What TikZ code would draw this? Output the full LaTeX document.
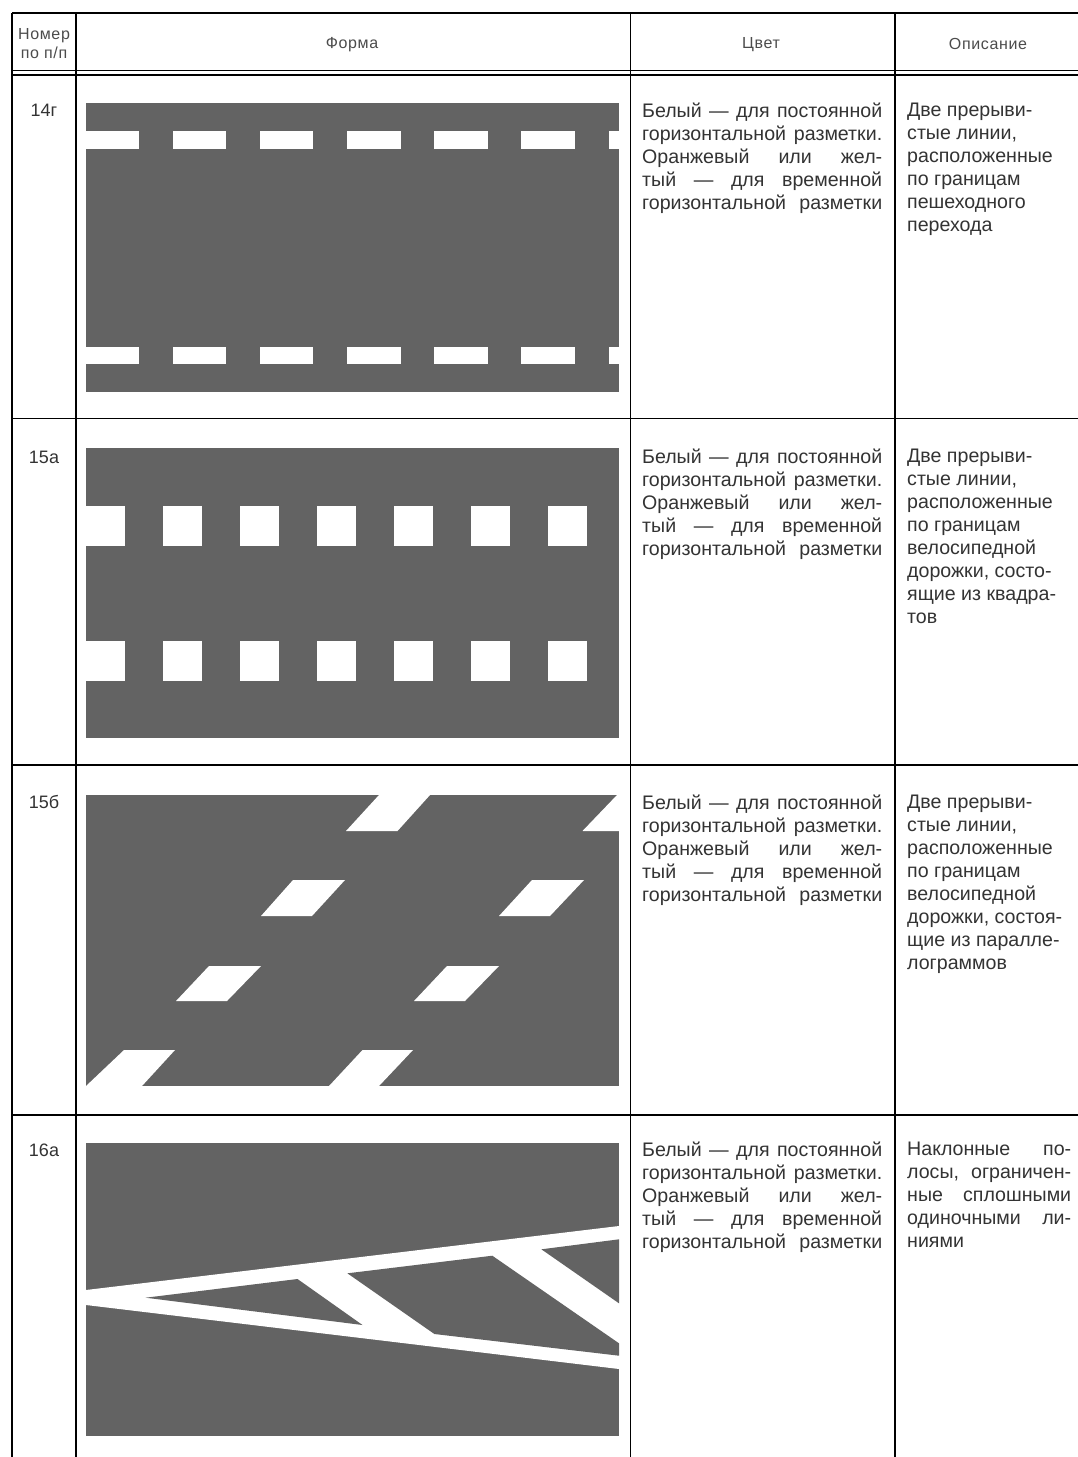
\documentclass[tikz,border=0pt]{standalone}
\usepackage{fontspec}
\setmainfont{Liberation Sans}
\newcommand{\jl}[2][240pt]{\makebox[#1][s]{#2}}
\newcommand{\celltext}{\fontsize{19.6}{23}\selectfont}
\newcommand{\numtext}{\fontsize{18}{23}\selectfont}
\newcommand{\headtext}{\fontsize{16}{19}\selectfont\addfontfeatures{LetterSpace=4}}
\tikzset{
  rule/.style={draw=black,line width=1.5pt},
  road/.style={fill=black!61,draw=none},
  paint/.style={fill=white,draw=none},
  headcell/.style={inner sep=0pt,text=black!70,font=\headtext,align=center,anchor=center},
  numcell/.style={inner sep=0pt,text=black!80,font=\numtext,anchor=north},
  bodycell/.style={inner sep=0pt,text=black!80,font=\celltext,align=left,anchor=north west},
}
\newcommand{\dashrow}[2]{%
  \foreach \a/\b in {86/138.5,172.5/226,259.5/313,347/401,434/488,521/575,609/619}
    \fill[paint] (\a,#1) rectangle (\b,#2);}
\newcommand{\squarerow}[2]{%
  \foreach \a/\b in {86/124.5,163/201.5,239.5/279,317/356,394/433,471/510,548/587}
    \fill[paint] (\a,#1) rectangle (\b,#2);}
\begin{document}
\begin{tikzpicture}[x=1pt,y=-1pt]
\useasboundingbox (0,0) rectangle (1078,1457);
\fill[white] (0,0) rectangle (1078,1457);
% table rules
\draw[rule] (12,13) -- (1078,13);
\draw[rule] (12,70.5) -- (1078,70.5);
\draw[rule] (12,75) -- (1078,75);
\draw[rule] (12,418.5) -- (1078,418.5);
\draw[rule] (12,765) -- (1078,765);
\draw[rule] (12,1115) -- (1078,1115);
\foreach \x in {12,76,630.5,895} \draw[rule] (\x,13) -- (\x,1457);
% header
\node[headcell] (hnum) at (44,44) {Номер\\по п/п};
\node[headcell] (hform) at (352,45) {Форма};
\node[headcell] (hcol) at (761,45) {Цвет};
\node[headcell] (hdesc) at (988,44) {Описание};
% 14g
\fill[road] (86,103) rectangle (619,392);
\dashrow{131}{149}
\dashrow{347}{364}
% 15a
\fill[road] (86,448) rectangle (619,738);
\squarerow{506}{546}
\squarerow{641}{681}
% 15b
\fill[road] (86,795) rectangle (619,1086);
\fill[paint] (379,795) -- (430,795) -- (397.5,831) -- (346,831) -- cycle;
\fill[paint] (617,795) -- (620,795) -- (620,831) -- (582.5,831) -- cycle;
\fill[paint] (293,880) -- (345,880) -- (312,916) -- (261,916) -- cycle;
\fill[paint] (532,880) -- (584,880) -- (550,916) -- (499,916) -- cycle;
\fill[paint] (209,966) -- (261,966) -- (227,1001) -- (176,1001) -- cycle;
\fill[paint] (447,966) -- (499,966) -- (465,1001) -- (414,1001) -- cycle;
\fill[paint] (124,1050) -- (175,1050) -- (142,1086) -- (86,1086) -- cycle;
\fill[paint] (362.5,1050) -- (413,1050) -- (379,1086) -- (329,1086) -- cycle;
% 16a
\fill[road] (86,1143) rectangle (619,1436);
\fill[paint] (86,1290) -- (619,1226) -- (619,1369) -- (86,1305) -- cycle;
\fill[road] (145.6,1297.7) -- (297.5,1279) -- (362.5,1325) -- cycle;
\fill[road] (347.4,1273.3) -- (492.3,1255.7) -- (619,1343.3) -- (619,1355.7) -- (434.4,1334) -- cycle;
\fill[road] (541.4,1249.3) -- (619,1239.3) -- (619,1303.3) -- cycle;
% numbers
\node[numcell] (n14) at (44,103.5) {14г};
\node[numcell] (n15a) at (44,450.5) {15а};
\node[numcell] (n15b) at (44,795) {15б};
\node[numcell] (n16a) at (44,1144) {16а};
% colour column
\node[bodycell] (c14) at (642,103) {\jl{Белый — для постоянной}\\\jl{горизонтальной разметки.}\\\jl{Оранжевый или жел-}\\\jl{тый — для временной}\\\jl{горизонтальной разметки}};
\node[bodycell] (c15a) at (642,449) {\jl{Белый — для постоянной}\\\jl{горизонтальной разметки.}\\\jl{Оранжевый или жел-}\\\jl{тый — для временной}\\\jl{горизонтальной разметки}};
\node[bodycell] (c15b) at (642,795) {\jl{Белый — для постоянной}\\\jl{горизонтальной разметки.}\\\jl{Оранжевый или жел-}\\\jl{тый — для временной}\\\jl{горизонтальной разметки}};
\node[bodycell] (c16a) at (642,1142) {\jl{Белый — для постоянной}\\\jl{горизонтальной разметки.}\\\jl{Оранжевый или жел-}\\\jl{тый — для временной}\\\jl{горизонтальной разметки}};
% description column
\node[bodycell] (d14) at (907,103) {Две прерыви-\\стые линии,\\расположенные\\по границам\\пешеходного\\перехода};
\node[bodycell] (d15a) at (907,449) {Две прерыви-\\стые линии,\\расположенные\\по границам\\велосипедной\\дорожки, состо-\\ящие из квадра-\\тов};
\node[bodycell] (d15b) at (907,795) {Две прерыви-\\стые линии,\\расположенные\\по границам\\велосипедной\\дорожки, состоя-\\щие из паралле-\\лограммов};
\node[bodycell] (d16a) at (907,1142) {\jl[164pt]{Наклонные по-}\\\jl[164pt]{лосы, ограничен-}\\\jl[164pt]{ные сплошными}\\\jl[164pt]{одиночными ли-}\\ниями};
\end{tikzpicture}
\end{document}
